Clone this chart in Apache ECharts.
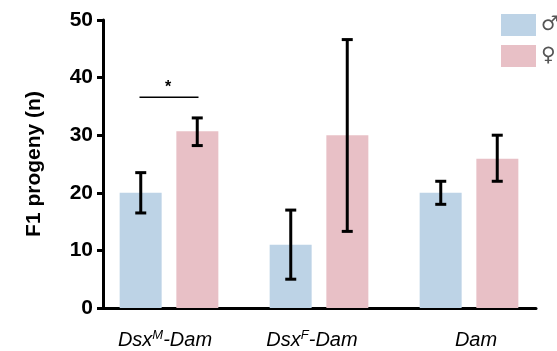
<!DOCTYPE html>
<html>
<head>
<meta charset="utf-8">
<script src="https://cdn.jsdelivr.net/npm/echarts@6/dist/echarts.min.js"></script>
<style>
html,body{margin:0;padding:0;background:#fff;}
#chart{width:557px;height:351px;}
</style>
</head>
<body>
<div id="chart"></div>
<script>
var categories = ['Dsx{sup|M}-Dam', 'Dsx{sup|F}-Dam', 'Dam'];
var maleValues = [20.0, 11.0, 20.0];
var maleErrLow = [16.5, 5.0, 18.0];
var maleErrHigh = [23.5, 17.0, 22.0];
var femaleValues = [30.7, 30.0, 25.9];
var femaleErrLow = [28.2, 13.3, 22.0];
var femaleErrHigh = [33.0, 46.6, 30.0];
var yTicks = [0, 10, 20, 30, 40, 50];
var significance = [[0, 36.6, '*']];

var FONT = '"Liberation Sans", Arial, Helvetica, sans-serif';
var MALE = '#bdd3e6';
var FEMALE = '#e8c0c6';
var OFFSET = 28.25;
// small horizontal nudges of the category labels (layout only)
var labelPad = ['{padR8|}', '{padR14|}', '{padL14|}'];

function errData(low, high) {
  return low.map(function (l, i) { return [i, l, high[i]]; });
}
function errSeries(name, low, high, dir) {
  return {
    type: 'custom', xAxisIndex: 0, yAxisIndex: 0, z: 5, silent: true,
    data: errData(low, high),
    renderItem: function (params, api) {
      var p1 = api.coord([api.value(0), api.value(1)]);
      var p2 = api.coord([api.value(0), api.value(2)]);
      var x = p1[0] + dir * OFFSET;
      var hw = 5.5;
      var st = { stroke: '#000', lineWidth: 3 };
      return { type: 'group', children: [
        { type: 'line', shape: { x1: x, y1: p1[1], x2: x, y2: p2[1] }, style: st },
        { type: 'line', shape: { x1: x - hw, y1: p1[1], x2: x + hw, y2: p1[1] }, style: st },
        { type: 'line', shape: { x1: x - hw, y1: p2[1], x2: x + hw, y2: p2[1] }, style: st }
      ]};
    }
  };
}

var chart = echarts.init(document.getElementById('chart'), null, { renderer: 'canvas' });
chart.setOption({
  animation: false,
  backgroundColor: '#fff',
  grid: [
    { left: 94, width: 450, top: 20, bottom: 43 },
    { left: 103, right: 21, top: 20, bottom: 43 }
  ],
  legend: {
    orient: 'vertical', left: 496, top: 9, itemWidth: 35, itemHeight: 22, itemGap: 9,
    icon: 'rect', data: ['♂', '♀'],
    textStyle: { fontSize: 20, color: '#555', fontFamily: '"DejaVu Sans", sans-serif' }
  },
  xAxis: [
    {
      type: 'category', gridIndex: 0, data: categories,
      axisLine: { show: false }, axisTick: { show: false },
      axisLabel: {
        margin: 21, interval: 0,
        formatter: function (v, idx) {
          var t = '{i|' + v.replace('{sup|', '}{sup|').replace('}-', '}{i|-') + '}';
          var pad = labelPad[idx] || '';
          return pad.indexOf('padL') >= 0 ? pad + t : t + pad;
        },
        rich: {
          i: { fontFamily: FONT, fontStyle: 'italic', fontSize: 20, color: '#000', lineHeight: 22 },
          sup: { fontFamily: FONT, fontStyle: 'italic', fontSize: 13, color: '#000', lineHeight: 22, verticalAlign: 'top', padding: [0, 0, 8, 0] },
          padR8: { width: 8 }, padR14: { width: 14 }, padL14: { width: 14 }
        }
      }
    },
    {
      type: 'value', gridIndex: 1, min: 0, max: 1,
      axisLine: { show: true, lineStyle: { color: '#000', width: 3 } },
      axisTick: { show: false }, axisLabel: { show: false }, splitLine: { show: false }
    }
  ],
  yAxis: [
    { type: 'value', gridIndex: 0, min: 0, max: 50, show: false },
    {
      type: 'value', gridIndex: 1, min: 0, max: 50, interval: 10,
      name: 'F1 progeny (n)', nameLocation: 'middle', nameGap: 58,
      nameTextStyle: { fontFamily: FONT, fontWeight: 'bold', fontSize: 21, color: '#000' },
      axisLine: { show: true, lineStyle: { color: '#000', width: 3 } },
      axisTick: { show: true, length: 6, lineStyle: { color: '#000', width: 3 } },
      axisLabel: { margin: 10, fontFamily: FONT, fontWeight: 'bold', fontSize: 21, color: '#000',
        formatter: function (v) { return yTicks.indexOf(v) >= 0 ? String(v) : ''; } },
      splitLine: { show: false }
    }
  ],
  series: [
    { name: '♂', type: 'bar', xAxisIndex: 0, yAxisIndex: 0, data: maleValues, barWidth: 42, barGap: '35%',
      itemStyle: { color: MALE } },
    { name: '♀', type: 'bar', xAxisIndex: 0, yAxisIndex: 0, data: femaleValues, barWidth: 42, barGap: '35%',
      itemStyle: { color: FEMALE } },
    errSeries('maleErr', maleErrLow, maleErrHigh, -1),
    errSeries('femaleErr', femaleErrLow, femaleErrHigh, 1),
    {
      type: 'custom', xAxisIndex: 0, yAxisIndex: 0, z: 5, silent: true, data: significance,
      renderItem: function (params, api) {
        var p = api.coord([api.value(0), api.value(1)]);
        return { type: 'group', children: [
          { type: 'line', shape: { x1: p[0] - 29.5, y1: p[1], x2: p[0] + 29.5, y2: p[1] }, style: { stroke: '#000', lineWidth: 1.5 } },
          { type: 'text', style: { text: significance[params.dataIndex][2], x: p[0] - 1, y: p[1] - 10,
            align: 'center', verticalAlign: 'middle', font: 'bold 16px ' + FONT, fill: '#000' } }
        ]};
      }
    }
  ]
});
</script>
</body>
</html>
